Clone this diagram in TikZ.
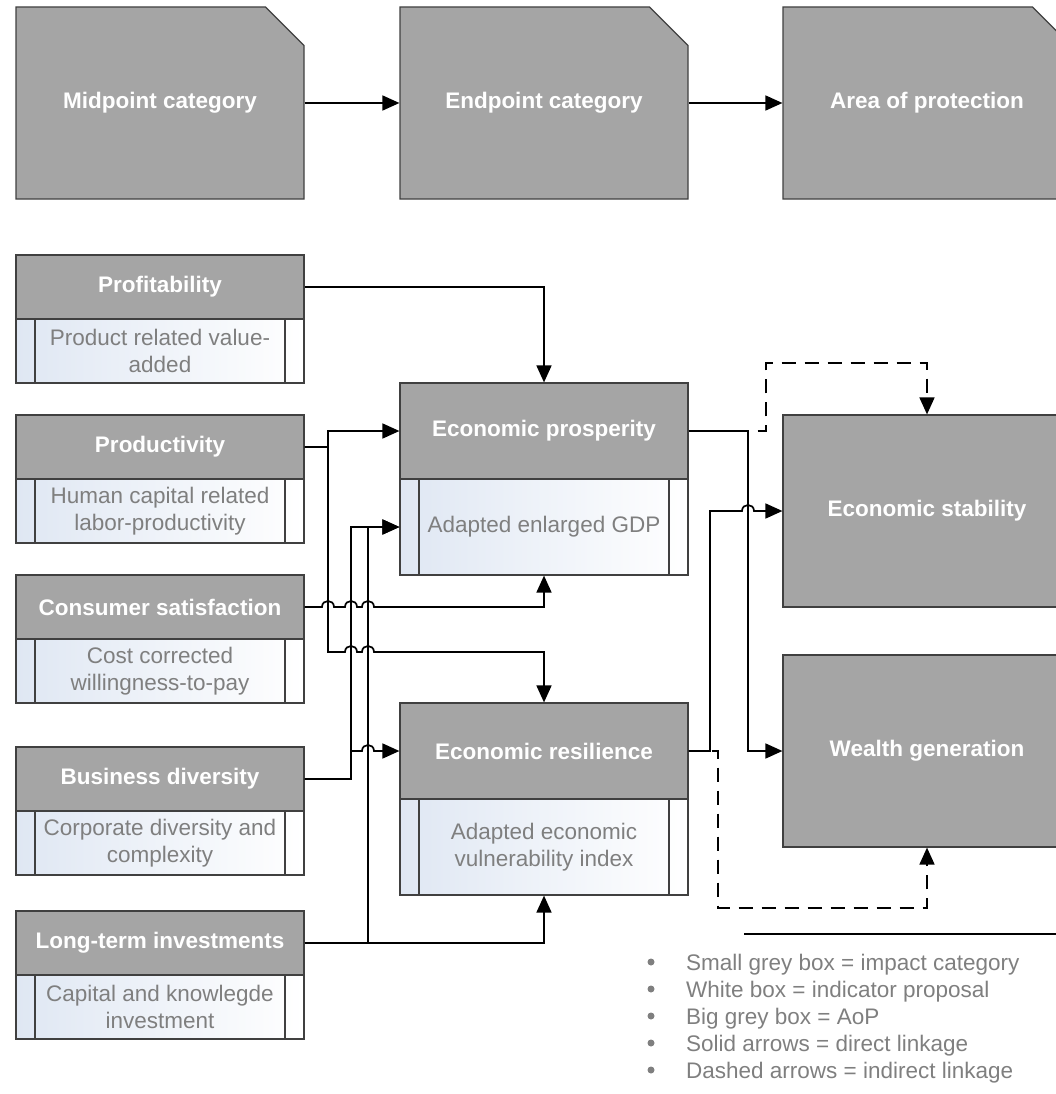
\documentclass[tikz,border=0pt]{standalone}
\usepackage{fontspec}
\setmainfont{Liberation Sans}
\usetikzlibrary{arrows.meta,shapes.misc}
\definecolor{boxgrey}{HTML}{A5A5A5}
\definecolor{boxline}{HTML}{404040}
\definecolor{txtgrey}{HTML}{7F7F7F}
\definecolor{indblue}{HTML}{DFE7F3}
\begin{document}
\begin{tikzpicture}[x=1pt,y=-1pt,
 font=\fontsize{22.5}{27}\selectfont,
 bigbox/.style={draw=boxline,line width=1.2pt,fill=boxgrey,text=white,font=\fontsize{22.5}{27}\selectfont\bfseries,minimum width=288pt,minimum height=192pt,inner sep=0pt},
 cutbox/.style={bigbox,chamfered rectangle,chamfered rectangle corners=north east,chamfered rectangle xsep=29pt,chamfered rectangle ysep=28pt},
 catbox/.style={bigbox,minimum height=64pt},
 indbox/.style={draw=boxline,line width=1.2pt,left color=indblue,right color=white,text=txtgrey,align=center,minimum width=288pt,minimum height=64pt,inner sep=0pt,
  path picture={\draw[boxline,line width=1.2pt] ([xshift=19pt]path picture bounding box.north west) -- ([xshift=19pt]path picture bounding box.south west)
   ([xshift=-19pt]path picture bounding box.north east) -- ([xshift=-19pt]path picture bounding box.south east);}},
 link/.style={draw=black,line width=1.7pt,-{Triangle[length=17pt,width=15pt]}},
 hint/.style={link,dash pattern=on 14pt off 9pt}]
 \useasboundingbox (0,0) rectangle (1056,1094);
 \clip (0,0) rectangle (1056,1094);
 \node[cutbox] (mid) at (160,103) {Midpoint category};
 \node[cutbox] (endp) at (544,103) {Endpoint category};
 \node[cutbox] (aop) at (927,103) {Area of protection};
 \node[catbox] (prof) at (160,287) {Profitability};
 \node[indbox] (profind) at (160,351) {Product related value-\\added};
 \node[catbox] (prod) at (160,447) {Productivity};
 \node[indbox] (prodind) at (160,511) {Human capital related\\labor-productivity};
 \node[catbox] (cons) at (160,607) {Consumer satisfaction};
 \node[indbox] (consind) at (160,671) {Cost corrected\\willingness-to-pay};
 \node[catbox] (bdiv) at (160,779) {Business diversity};
 \node[indbox] (bdivind) at (160,843) {Corporate diversity and\\complexity};
 \node[catbox] (ltinv) at (160,943) {Long-term investments};
 \node[indbox] (ltinvind) at (160,1007) {Capital and knowlegde\\investment};
 \node[catbox,minimum height=96pt] (prosp) at (544,431) {Economic prosperity};
 \node[indbox,minimum height=96pt] (prospind) at (544,527) {Adapted enlarged GDP};
 \node[catbox,minimum height=96pt] (resil) at (544,751) {Economic resilience};
 \node[indbox,minimum height=96pt] (resilind) at (544,847) {Adapted economic\\vulnerability index};
 \node[bigbox] (stab) at (927,511) {Economic stability};
 \node[bigbox] (wealth) at (927,751) {Wealth generation};
 \draw[link] (mid.east) -- (endp.west);
 \draw[link] (endp.east) -- (aop.west);
 \draw[link] (prof.east) -| (prosp.north);
 \draw[link] (prod.east) -- (328,447) |- (prosp.west);
 \draw[link] (prod.east) -- (328,447) -- (328,652) -- (345,652) .. controls (345,644) and (357,644) .. (357,652) -- (362,652) .. controls (362,644) and (374,644) .. (374,652) -| (resil.north);
 \draw[link] (cons.east) -- (322,607) .. controls (322,599) and (334,599) .. (334,607) -- (345,607) .. controls (345,599) and (357,599) .. (357,607) -- (362,607) .. controls (362,599) and (374,599) .. (374,607) -| (prospind.south);
 \draw[link] (bdiv.east) -- (351,779) |- (prospind.west);
 \draw[link] (bdiv.east) -- (351,779) -- (351,751) -- (362,751) .. controls (362,743) and (374,743) .. (374,751) -- (resil.west);
 \draw[link] (ltinv.east) -- (368,943) -- (368,527) -- (prospind.west);
 \draw[link] (ltinv.east) -| (resilind.south);
 \draw[link] (prosp.east) -- (748,431) |- (wealth.west);
 \draw[link] (resil.east) -- (710,751) -- (710,511) -- (742,511) .. controls (742,503) and (754,503) .. (754,511) -- (stab.west);
 \draw[hint] (prosp.east) -- (766,431) -- (766,363) -| (stab.north);
 \draw[hint] (resil.east) -- (718,751) -- (718,908) -| (wealth.south);
 \draw[line width=1.2pt] (744,934) -- (1056,934);
 \foreach \txt [count=\i] in {Small grey box = impact category,White box = indicator proposal,Big grey box = AoP,Solid arrows = direct linkage,Dashed arrows = indirect linkage}{
  \fill[txtgrey] (651,935+27*\i) circle (3.5pt);
  \node[anchor=base west,text=txtgrey,inner sep=0pt] (leg\i) at (686,943+27*\i) {\txt};
 }
\end{tikzpicture}
\end{document}
